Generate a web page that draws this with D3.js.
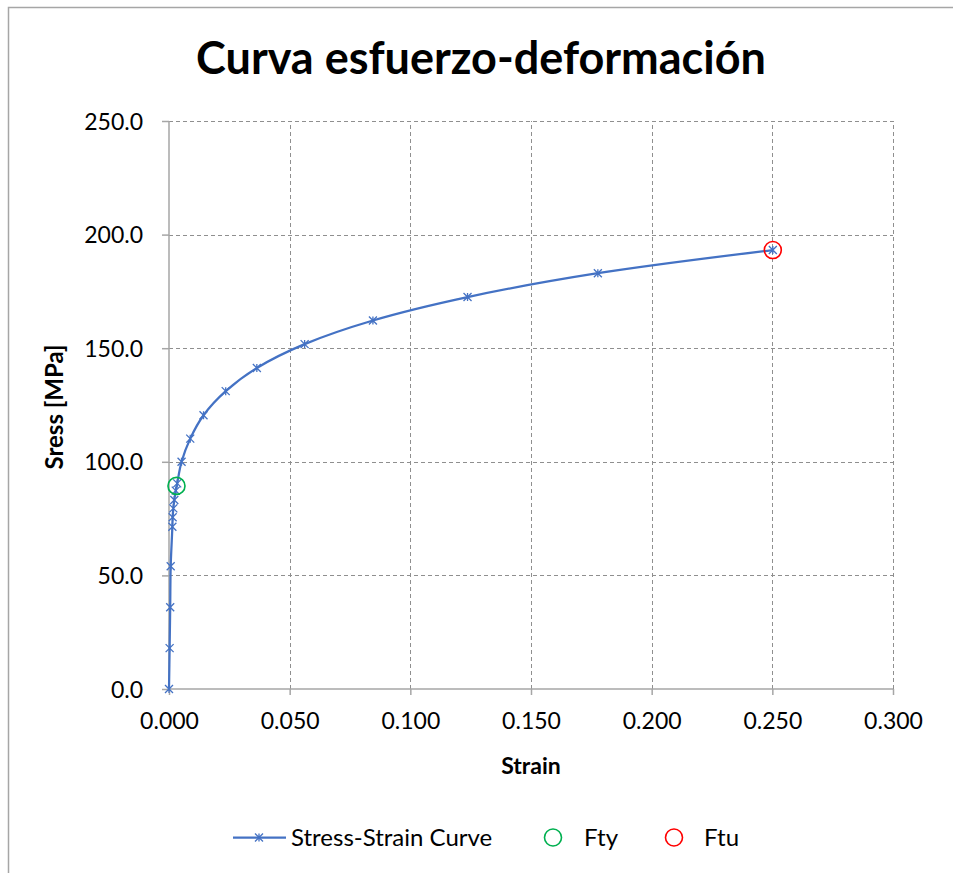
<!DOCTYPE html>
<html>
<head>
<meta charset="utf-8">
<script src="https://cdn.jsdelivr.net/npm/d3@7"></script>
<style>
  html, body { margin: 0; padding: 0; background: #fff; }
  svg { display: block; font-family: Lato, "Open Sans", sans-serif; }
</style>
</head>
<body>
<svg id="chart" width="953" height="873"></svg>
<script>
// Stress-strain curve samples
const strain = [0, 0.00026, 0.0005, 0.0007, 0.0014, 0.0015, 0.0018, 0.0022, 0.0028, 0.0034, 0.0052, 0.0088, 0.0143, 0.0235, 0.0364, 0.0562, 0.0845, 0.1237, 0.1777, 0.2502];
const stress = [0, 18, 36, 54, 71.4, 75.6, 79.5, 83.2, 87.3, 90.5, 100, 110.2, 120.5, 131.1, 141.3, 151.8, 162.2, 172.5, 183, 193.2];

// Yield and ultimate strength points
const fty = { strain: 0.0031, stress: 89.4 };
const ftu = { strain: 0.2502, stress: 193.2 };

const xTicks = [0, 0.05, 0.1, 0.15, 0.2, 0.25, 0.3];
const yTicks = [0, 50, 100, 150, 200, 250];

const titleText = "Curva esfuerzo-deformación";
const xLabel = "Strain";
const yLabel = "Sress [MPa]";
const legendNames = ["Stress-Strain Curve", "Fty", "Ftu"];

const blue = "#4472C4", green = "#00B050", red = "#FF0000";
const gridColor = "#8f8f8f", axisColor = "#a6a6a6";

const svg = d3.select("#chart");

// chart frame
svg.append("rect").attr("x", 8.5).attr("y", 7.5).attr("width", 1000).attr("height", 1000)
  .attr("fill", "none").attr("stroke", "#a6a6a6").attr("stroke-width", 1.5);

const x = d3.scaleLinear().domain([0, 0.3]).range([169, 893]);
const y = d3.scaleLinear().domain([0, 250]).range([689, 121]);

// gridlines
svg.append("g").selectAll("line").data(yTicks.filter(d => d > 0)).join("line")
  .attr("x1", x(0)).attr("x2", x(0.3))
  .attr("y1", d => Math.round(y(d)) + 0.5).attr("y2", d => Math.round(y(d)) + 0.5)
  .attr("stroke", gridColor).attr("stroke-width", 1).attr("stroke-dasharray", "4,3");
svg.append("g").selectAll("line").data(xTicks.filter(d => d > 0)).join("line")
  .attr("y1", y(0)).attr("y2", y(250))
  .attr("x1", d => Math.round(x(d)) + 0.5).attr("x2", d => Math.round(x(d)) + 0.5)
  .attr("stroke", gridColor).attr("stroke-width", 1).attr("stroke-dasharray", "4,3");

// axes
const xAxis = d3.axisBottom(x).tickValues(xTicks).tickFormat(d3.format(".3f"))
  .tickSize(6).tickPadding(18);
const yAxis = d3.axisLeft(y).tickValues(yTicks).tickFormat(d3.format(".1f"))
  .tickSize(7).tickPadding(19);

const gx = svg.append("g").attr("transform", `translate(0,${y(0)})`).call(xAxis);
const gy = svg.append("g").attr("transform", `translate(${x(0)},0)`).call(yAxis);
[gx, gy].forEach(g => {
  g.select(".domain").attr("stroke", axisColor).attr("stroke-width", 1.5);
  g.selectAll(".tick line").attr("stroke", axisColor).attr("stroke-width", 1.5);
  g.selectAll(".tick text").attr("fill", "#000").style("font-size", "23px")
    .style("font-family", "Lato, sans-serif");
});
gx.select(".domain").attr("d", `M${x(0)},0H${x(0.3)}`);
gy.select(".domain").attr("d", `M0,${y(0)}V${y(250)}`);
gy.selectAll(".tick text").attr("dy", "0.35em");

// curve
const pts = strain.map((s, i) => [s, stress[i]]);
const line = d3.line().x(d => x(d[0])).y(d => y(d[1])).curve(d3.curveCatmullRom.alpha(0.5));
svg.append("path").datum(pts).attr("d", line)
  .attr("fill", "none").attr("stroke", blue).attr("stroke-width", 2.25);

// star marker (x with vertical bar)
function star(g, cx, cy, r) {
  const p = `M${cx - r},${cy - r}L${cx + r},${cy + r}M${cx - r},${cy + r}L${cx + r},${cy - r}M${cx},${cy - r}L${cx},${cy + r}`;
  g.append("path").attr("d", p).attr("stroke", blue).attr("stroke-width", 1.3).attr("fill", "none");
}
const markers = svg.append("g");
pts.forEach(d => star(markers, x(d[0]), y(d[1]), 4));

// Fty / Ftu circles
svg.append("circle").attr("cx", x(fty.strain)).attr("cy", y(fty.stress)).attr("r", 8.5)
  .attr("fill", "none").attr("stroke", green).attr("stroke-width", 1.6);
svg.append("circle").attr("cx", x(ftu.strain)).attr("cy", y(ftu.stress)).attr("r", 8.5)
  .attr("fill", "none").attr("stroke", red).attr("stroke-width", 1.6);

// title and axis labels
svg.append("text").attr("x", 481).attr("y", 74).attr("text-anchor", "middle")
  .style("font-size", "45px").style("font-weight", "bold").text(titleText);
svg.append("text").attr("x", 531).attr("y", 774).attr("text-anchor", "middle")
  .style("font-size", "23px").style("font-weight", "bold").text(xLabel);
svg.append("text").attr("transform", "translate(63,407) rotate(-90)").attr("text-anchor", "middle")
  .style("font-size", "24px").style("font-weight", "bold").text(yLabel);

// legend
const ly = 837.5;
const lg = svg.append("g");
lg.append("line").attr("x1", 233).attr("x2", 286).attr("y1", ly).attr("y2", ly)
  .attr("stroke", blue).attr("stroke-width", 2.25);
star(lg, 259, ly, 4);
const legendFont = "24px";
lg.append("text").attr("x", 291).attr("y", ly).attr("dy", "0.35em").style("font-size", legendFont).text(legendNames[0]);
lg.append("circle").attr("cx", 553).attr("cy", ly).attr("r", 8.5).attr("fill", "none")
  .attr("stroke", green).attr("stroke-width", 1.6);
lg.append("text").attr("x", 584).attr("y", ly).attr("dy", "0.35em").style("font-size", legendFont).text(legendNames[1]);
lg.append("circle").attr("cx", 674).attr("cy", ly).attr("r", 8.5).attr("fill", "none")
  .attr("stroke", red).attr("stroke-width", 1.6);
lg.append("text").attr("x", 704).attr("y", ly).attr("dy", "0.35em").style("font-size", legendFont).text(legendNames[2]);
</script>
</body>
</html>
